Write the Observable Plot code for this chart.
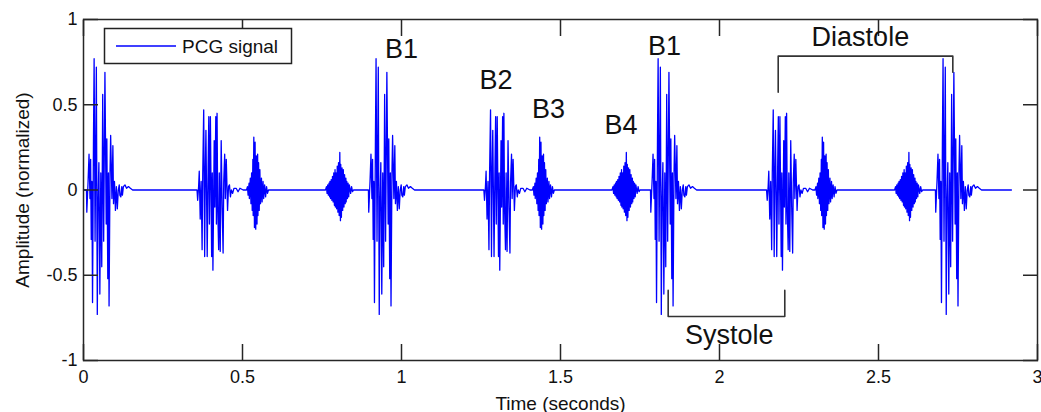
<!DOCTYPE html>
<html>
<head>
<meta charset="utf-8">
<script src="https://cdn.jsdelivr.net/npm/d3@7"></script>
<script src="https://cdn.jsdelivr.net/npm/@observablehq/plot@0.6"></script>
<style>
html, body { margin: 0; padding: 0; background: #fff; }
#wrap { position: relative; width: 1041px; height: 412px; overflow: hidden; font-family: "Liberation Sans", Arial, sans-serif; }
#legend { position: absolute; left: 0; top: 0; }
</style>
</head>
<body>
<div id="wrap"></div>
<script>
// ---- axes ----
const xTicks = [0, 0.5, 1, 1.5, 2, 2.5, 3];
const yTicks = [-1, -0.5, 0, 0.5, 1];

// ---- heart-sound waveforms: offset from sound onset (ms) and amplitude ----
const b1OffsetMs = [0, 1, 5, 8, 11, 13, 15, 17, 19, 22, 24, 27, 31, 34, 36, 39, 42, 45, 48, 51, 54, 58, 62, 64, 67, 69, 71, 74, 76, 80, 83, 85, 88, 91, 94, 97, 100, 103, 105, 108, 111, 113, 116, 121, 126, 132, 138, 145];
const b1Amp = [0, -0.13, 0.05, 0.21, -0.05, 0.18, -0.29, 0.05, -0.66, 0.3, 0.77, -0.3, 0.72, -0.73, -0.1, 0.16, -0.61, 0.1, -0.45, 0.56, -0.3, 0.69, -0.2, 0.3, -0.52, 0.1, -0.68, 0.1, 0.32, -0.05, 0.26, -0.08, 0.05, -0.12, 0.02, -0.11, 0, 0.03, -0.03, -0.04, 0.02, -0.03, 0.02, 0.03, 0.01, 0.02, 0.01, 0];

const b2OffsetMs = [0, 2, 5, 7, 10, 13, 16, 18, 21, 24, 26, 28, 32, 35, 37, 39, 42, 46, 48, 50, 54, 56, 59, 61, 63, 65, 68, 70, 73, 76, 79, 82, 84, 87, 89, 92, 96, 99, 102, 105, 108, 112, 116, 123, 129, 135, 145];
const b2Amp = [0, -0.06, 0.02, 0.11, -0.17, 0.05, -0.35, 0.1, 0.47, -0.39, 0.1, 0.35, -0.39, 0.15, 0.43, -0.2, 0.43, -0.39, 0.1, -0.47, 0.29, -0.1, 0.43, -0.2, 0.45, -0.1, -0.35, 0.1, -0.36, 0.29, -0.1, -0.37, 0.05, 0.21, -0.05, 0.18, -0.12, 0.02, 0.03, -0.04, 0, -0.02, 0.01, 0.01, -0.01, 0.01, 0];

const b3OffsetMs = [0, 3, 5, 8, 9, 12, 14, 16, 18, 20, 21, 23, 25, 27, 29, 31, 33, 35, 36, 38, 40, 42, 44, 47, 49, 52, 54, 57, 60, 63, 66, 69];
const b3Amp = [0, 0.02, -0.03, 0.04, -0.05, 0.07, -0.08, 0.1, -0.12, 0.18, -0.15, 0.31, -0.22, 0.28, -0.23, 0.2, -0.2, 0.21, -0.15, 0.16, -0.12, 0.12, -0.08, 0.07, -0.07, 0.05, -0.05, 0.03, -0.04, 0.02, -0.02, 0];

const b4OffsetMs = [0, 3, 5, 7, 9, 11, 13, 14, 16, 18, 20, 22, 24, 26, 28, 30, 31, 33, 35, 37, 39, 41, 43, 45, 47, 48, 50, 52, 54, 56, 58, 60, 62, 64, 65, 67, 69, 71, 73, 75, 79, 82, 85, 88];
const b4Amp = [0, 0.02, -0.02, 0.03, -0.03, 0.04, -0.04, 0.05, -0.05, 0.06, -0.06, 0.08, -0.07, 0.1, -0.09, 0.12, -0.1, 0.1, -0.11, 0.14, -0.13, 0.16, -0.15, 0.22, -0.18, 0.15, -0.16, 0.13, -0.12, 0.12, -0.1, 0.09, -0.08, 0.07, -0.07, 0.05, -0.05, 0.04, -0.04, 0.03, -0.02, 0.02, -0.01, 0];

// ---- sound events in the recording (type, onset in seconds) ----
const soundType = ["B1", "B2", "B3", "B4", "B1", "B2", "B3", "B4", "B1", "B2", "B3", "B4", "B1"];
const soundOnset = [0.0094, 0.357, 0.5126, 0.761, 0.896, 1.259, 1.4116, 1.662, 1.783, 2.148, 2.3003, 2.5506, 2.679];
const recordStart = 0;
const recordEnd = 2.918;

// ---- annotations ----
const peakLabels = ["B1", "B2", "B3", "B4", "B1"];
const peakLabelTime = [1.0, 1.297, 1.462, 1.69, 1.827];
const peakLabelAmp = [0.775, 0.593, 0.423, 0.33, 0.789];

const phaseNames = ["Systole", "Diastole"];
const phaseStart = [1.8386, 2.1846];
const phaseEnd = [2.2053, 2.7337];
const phaseLevel = [-0.742, 0.785];
const phaseLegStart = [-0.589, 0.574];
const phaseLegEnd = [-0.589, 0.691];
const phaseLabelTime = [2.031, 2.443];
const phaseLabelAmp = [-0.902, 0.842];

// ---- build tables ----
const shapes = { B1: [b1OffsetMs, b1Amp], B2: [b2OffsetMs, b2Amp], B3: [b3OffsetMs, b3Amp], B4: [b4OffsetMs, b4Amp] };
const signal = [{ t: recordStart, v: 0 }];
soundType.forEach((k, i) => {
  const [off, amp] = shapes[k];
  off.forEach((ms, j) => signal.push({ t: soundOnset[i] + ms / 1000, v: amp[j] }));
});
signal.push({ t: recordEnd, v: 0 });

const bracketPts = phaseNames.flatMap((name, i) => [
  { name, t: phaseStart[i], v: phaseLegStart[i] },
  { name, t: phaseStart[i], v: phaseLevel[i] },
  { name, t: phaseEnd[i], v: phaseLevel[i] },
  { name, t: phaseEnd[i], v: phaseLegEnd[i] }
]);

const FONT = '"Liberation Sans", Arial, sans-serif';
const AX = "#262626";

const chart = Plot.plot({
  width: 1041,
  height: 412,
  marginLeft: 83,
  marginRight: 4,
  marginTop: 19,
  marginBottom: 52,
  x: { domain: [0, 3], label: null },
  y: { domain: [-1, 1], label: null },
  style: { fontFamily: FONT, background: "#fff", color: "#111", overflow: "visible" },
  marks: [
    Plot.line(signal, { x: "t", y: "v", stroke: "#0000ff", strokeWidth: 1.3 }),
    Plot.line(bracketPts, { x: "t", y: "v", z: "name", stroke: "#333", strokeWidth: 1.6 }),
    Plot.frame({ stroke: AX, strokeWidth: 1.5 }),
    Plot.axisX(xTicks, { anchor: "bottom", tickSize: -16, tickFormat: () => "", stroke: AX, strokeWidth: 1.5, label: null }),
    Plot.axisX(xTicks, { anchor: "top", tickSize: -16, tickFormat: () => "", stroke: AX, strokeWidth: 1.5, label: null }),
    Plot.axisY(yTicks, { anchor: "left", tickSize: -15, tickFormat: () => "", stroke: AX, strokeWidth: 1.5, label: null }),
    Plot.axisY(yTicks, { anchor: "right", tickSize: -15, tickFormat: () => "", stroke: AX, strokeWidth: 1.5, label: null }),
    Plot.axisX(xTicks, { anchor: "bottom", tickSize: 0, tickPadding: 10, fontSize: 18, tickFormat: d => String(d), label: null, fill: "#111" }),
    Plot.axisY(yTicks, { anchor: "left", tickSize: 0, tickPadding: 6, fontSize: 18, tickFormat: d => String(d), label: null, fill: "#111" }),
    Plot.text(["Time (seconds)"], { frameAnchor: "bottom", dy: 49, lineAnchor: "bottom", fontSize: 19, fill: "#111" }),
    Plot.text(["Amplitude (normalized)"], { frameAnchor: "left", dx: -61, rotate: -90, textAnchor: "middle", lineAnchor: "middle", fontSize: 19, fill: "#111" }),
    Plot.text(peakLabels, { x: (d, i) => peakLabelTime[i], y: (d, i) => peakLabelAmp[i], lineAnchor: "bottom", fontSize: 27, fill: "#111" }),
    Plot.text(phaseNames, { x: (d, i) => phaseLabelTime[i], y: (d, i) => phaseLabelAmp[i], lineAnchor: "bottom", fontSize: 27, fill: "#111" })
  ]
});

const wrap = document.getElementById("wrap");
wrap.appendChild(chart);

// ---- legend (inside the axes box, upper left) ----
const ns = "http://www.w3.org/2000/svg";
const leg = document.createElementNS(ns, "svg");
leg.setAttribute("id", "legend");
leg.setAttribute("width", "1041");
leg.setAttribute("height", "412");
leg.style.pointerEvents = "none";
const box = document.createElementNS(ns, "rect");
box.setAttribute("x", "104.5"); box.setAttribute("y", "28.5");
box.setAttribute("width", "187"); box.setAttribute("height", "35");
box.setAttribute("fill", "#fff"); box.setAttribute("stroke", "#222"); box.setAttribute("stroke-width", "1.5");
leg.appendChild(box);
const ln = document.createElementNS(ns, "line");
ln.setAttribute("x1", "116"); ln.setAttribute("x2", "176");
ln.setAttribute("y1", "46"); ln.setAttribute("y2", "46");
ln.setAttribute("stroke", "#0000ff"); ln.setAttribute("stroke-width", "1.3");
leg.appendChild(ln);
const tx = document.createElementNS(ns, "text");
tx.setAttribute("x", "182"); tx.setAttribute("y", "53");
tx.setAttribute("font-size", "19"); tx.setAttribute("font-family", FONT); tx.setAttribute("fill", "#111");
tx.textContent = "PCG signal";
leg.appendChild(tx);
wrap.appendChild(leg);
</script>
</body>
</html>
